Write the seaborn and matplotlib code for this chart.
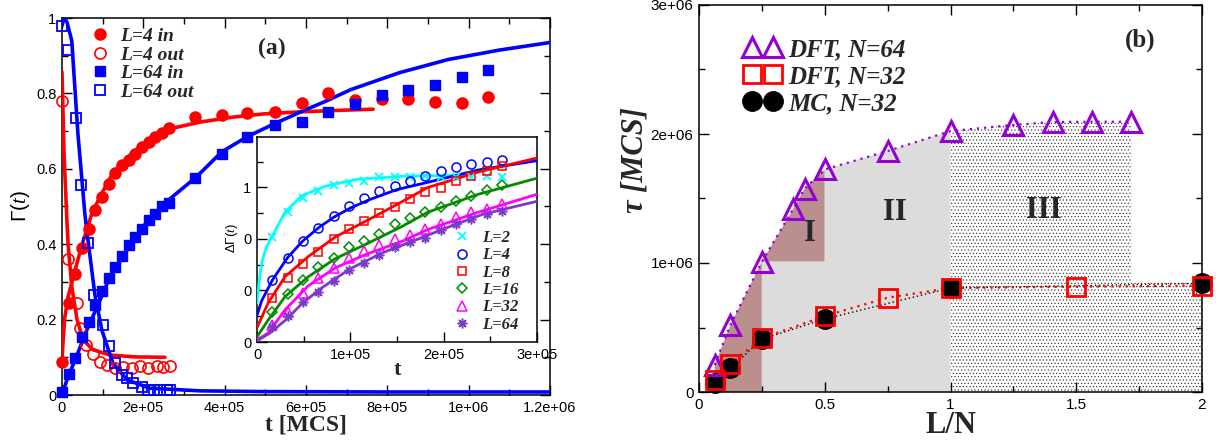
import numpy as np
import pandas as pd
import matplotlib
matplotlib.use("Agg")
import matplotlib.pyplot as plt
import seaborn as sns
from matplotlib.font_manager import FontProperties
from matplotlib.ticker import FixedLocator, FixedFormatter, MultipleLocator

# ---------------- data: panel (a) main ----------------
t_l4_in = [0, 1.64e4, 3.28e4, 4.92e4, 6.56e4, 8.2e4, 9.84e4, 1.148e5, 1.312e5, 1.476e5,
           1.64e5, 1.804e5, 1.968e5, 2.132e5, 2.296e5, 2.46e5, 2.624e5,
           3.27e5, 3.93e5, 4.55e5, 5.23e5, 5.9e5, 6.53e5, 7.2e5, 7.86e5, 8.5e5, 9.17e5, 9.83e5, 1.047e6]
g_l4_in = [0.088, 0.245, 0.32, 0.39, 0.44, 0.49, 0.525, 0.56, 0.59, 0.61,
           0.623, 0.64, 0.658, 0.671, 0.684, 0.695, 0.708,
           0.737, 0.743, 0.748, 0.751, 0.775, 0.80, 0.782, 0.785, 0.785, 0.778, 0.774, 0.79]

t_l4_out = [0, 1.4e4, 3.6e4, 4.4e4, 6.0e4, 7.7e4, 9.3e4, 1.1e5, 1.3e5, 1.51e5, 1.71e5,
            1.92e5, 2.12e5, 2.33e5, 2.49e5, 2.65e5]
g_l4_out = [0.78, 0.36, 0.243, 0.178, 0.133, 0.11, 0.088, 0.08, 0.072, 0.075, 0.072,
            0.078, 0.072, 0.078, 0.074, 0.077]

t_l64_in = [0, 1.64e4, 3.28e4, 4.92e4, 6.56e4, 8.2e4, 9.84e4, 1.148e5, 1.312e5, 1.476e5,
            1.64e5, 1.804e5, 1.968e5, 2.132e5, 2.296e5, 2.46e5, 2.624e5,
            3.27e5, 3.93e5, 4.55e5, 5.23e5, 5.9e5, 6.53e5, 7.2e5, 7.86e5, 8.5e5, 9.17e5, 9.83e5, 1.047e6]
g_l64_in = [0.008, 0.055, 0.097, 0.155, 0.193, 0.238, 0.276, 0.31, 0.34, 0.37,
            0.398, 0.42, 0.44, 0.464, 0.48, 0.50, 0.51,
            0.575, 0.64, 0.685, 0.716, 0.725, 0.75, 0.773, 0.796, 0.81, 0.822, 0.843, 0.862]

t_l64_out = [0, 1.5e4, 3.4e4, 4.7e4, 6.4e4, 7.9e4, 1.0e5, 1.15e5, 1.3e5, 1.47e5, 1.6e5,
             1.75e5, 1.97e5, 2.12e5, 2.27e5, 2.42e5, 2.57e5, 2.65e5]
g_l64_out = [0.98, 0.915, 0.735, 0.557, 0.403, 0.265, 0.186, 0.13, 0.085, 0.053, 0.045,
             0.032, 0.02, 0.013, 0.012, 0.012, 0.012, 0.012]

# fitted curves
fit_l4_in_t = [0, 3e3, 7e3, 1.5e4, 3.2e4, 4.9e4, 7.4e4, 9.3e4, 1.25e5, 1.75e5, 2.24e5,
               2.73e5, 3.4e5, 4.2e5, 5.0e5, 5.85e5, 6.8e5, 7.65e5]
fit_l4_in_g = [0.09, 0.15, 0.207, 0.26, 0.33, 0.398, 0.483, 0.525, 0.589, 0.645, 0.684,
               0.708, 0.724, 0.737, 0.746, 0.751, 0.755, 0.758]
fit_l4_out_t = [0, 5e3, 1.2e4, 1.5e4, 2.4e4, 3.7e4, 5.2e4, 7.6e4, 1.18e5, 1.8e5, 2.53e5]
fit_l4_out_g = [0.857, 0.64, 0.464, 0.40, 0.287, 0.20, 0.146, 0.12, 0.106, 0.101, 0.10]
fit_l64_in_t = [0, 1.2e4, 3.7e4, 6.1e4, 8.6e4, 1.18e5, 1.75e5, 2.09e5, 2.65e5, 3.3e5, 3.93e5,
                4.55e5, 5.23e5, 5.85e5, 6.5e5, 7.1e5, 8.3e5, 9.5e5, 1.076e6, 1.2e6]
fit_l64_in_g = [0, 0.04, 0.106, 0.172, 0.233, 0.313, 0.41, 0.46, 0.52, 0.578, 0.645,
                0.685, 0.72, 0.75, 0.78, 0.81, 0.855, 0.89, 0.915, 0.935]
fit_l64_out_t = [0, 5e3, 1.2e4, 2.4e4, 3.9e4, 5.6e4, 6.4e4, 8.1e4, 9.8e4, 1.25e5, 1.6e5,
                 2.16e5, 3.4e5, 5e5, 8e5, 1.2e6]
fit_l64_out_g = [0.98, 1.0, 0.99, 0.94, 0.695, 0.483, 0.41, 0.265, 0.172, 0.085, 0.04,
                 0.018, 0.011, 0.009, 0.008, 0.008]

# ---------------- data: panel (a) inset ----------------
t_inset = [1.64e4, 3.28e4, 4.92e4, 6.56e4, 8.2e4, 9.84e4, 1.148e5, 1.312e5, 1.476e5,
           1.64e5, 1.804e5, 1.968e5, 2.132e5, 2.296e5, 2.46e5, 2.624e5]
dg_L2 = [0.51, 0.63, 0.70, 0.735, 0.76, 0.77, 0.78, 0.80, 0.80, 0.80, 0.805, 0.80, 0.80, 0.80, 0.805, 0.80]
dg_L4 = [0.30, 0.41, 0.49, 0.555, 0.61, 0.66, 0.70, 0.735, 0.755, 0.78, 0.805, 0.83, 0.85, 0.863, 0.873, 0.883]
dg_L8 = [0.215, 0.31, 0.38, 0.435, 0.50, 0.55, 0.585, 0.625, 0.655, 0.695, 0.728, 0.748, 0.78, 0.807, 0.83, 0.854]
dg_L16 = [0.146, 0.234, 0.30, 0.365, 0.41, 0.46, 0.49, 0.525, 0.575, 0.60, 0.63, 0.655, 0.685, 0.71, 0.74, 0.76]
dg_L32 = [0.083, 0.146, 0.24, 0.31, 0.36, 0.41, 0.44, 0.473, 0.50, 0.52, 0.55, 0.575, 0.605, 0.63, 0.645, 0.668]
dg_L64 = [0.073, 0.125, 0.192, 0.242, 0.295, 0.35, 0.385, 0.424, 0.463, 0.483, 0.507, 0.546, 0.571, 0.595, 0.62, 0.634]

fit_L2_t = [0, 2e3, 5e3, 1e4, 1.6e4, 3e4, 4.8e4, 7.3e4, 1.08e5, 1.58e5, 2.3e5]
fit_L2_g = [0.19, 0.28, 0.385, 0.46, 0.51, 0.63, 0.71, 0.756, 0.79, 0.805, 0.81]
fit_L4_t = [0, 5e3, 1.64e4, 3.28e4, 4.9e4, 6.6e4, 8.2e4, 1.0e5, 1.2e5, 1.5e5, 1.83e5, 2.37e5, 3e5]
fit_L4_g = [0.13, 0.20, 0.30, 0.41, 0.49, 0.555, 0.605, 0.65, 0.69, 0.74, 0.775, 0.835, 0.88]
fit_t = [0, 1.2e4, 3e4, 5.5e4, 8.4e4, 1.16e5, 1.55e5, 1.83e5, 2.37e5, 3e5]
fit_L8_g = [0.07, 0.19, 0.317, 0.415, 0.51, 0.585, 0.68, 0.75, 0.825, 0.893]
fit_L16_g = [0.025, 0.107, 0.22, 0.317, 0.405, 0.473, 0.56, 0.63, 0.717, 0.795]
fit_L32_g = [0.01, 0.044, 0.156, 0.273, 0.36, 0.424, 0.488, 0.546, 0.63, 0.717]
fit_L64_t = [0, 1.4e4, 3.2e4, 4.9e4, 7.1e4, 1.0e5, 1.35e5, 1.71e5, 2.07e5, 2.42e5, 3e5]
fit_L64_g = [0.005, 0.044, 0.112, 0.19, 0.268, 0.356, 0.434, 0.497, 0.561, 0.62, 0.683]

# ---------------- data: panel (b) ----------------
dft64_x = [0.0625, 0.125, 0.25, 0.375, 0.42, 0.5, 0.75, 1.0, 1.25, 1.40625, 1.5625, 1.71875]
dft64_y = [0.21e6, 0.52e6, 1.01e6, 1.42e6, 1.576e6, 1.725e6, 1.868e6, 2.023e6, 2.07e6, 2.093e6, 2.095e6, 2.095e6]
dft32_x = [0.0625, 0.125, 0.25, 0.5, 0.75, 1.0, 1.5, 2.0]
dft32_y = [0.095e6, 0.22e6, 0.416e6, 0.589e6, 0.731e6, 0.806e6, 0.816e6, 0.824e6]
mc_x = [0.0625, 0.125, 0.25, 0.5, 1.0, 2.0]
mc_y = [0.072e6, 0.184e6, 0.41e6, 0.566e6, 0.806e6, 0.842e6]
region_edges = [0.25, 0.5, 1.0, 2.0]
region3_floor = 0.85e6

# tick labels
a_xticks = [0, 2e5, 4e5, 6e5, 8e5, 1e6, 1.2e6]
a_xlabels = ["0", "2e+05", "4e+05", "6e+05", "8e+05", "1e+06", "1.2e+06"]
a_yticks = [0, 0.2, 0.4, 0.6, 0.8, 1.0]
a_ylabels = ["0", "0.2", "0.4", "0.6", "0.8", "1"]
i_xticks = [0, 1e5, 2e5, 3e5]
i_xlabels = ["0", "1e+05", "2e+05", "3e+05"]
i_yticks = [0, 0.25, 0.5, 0.75]
i_ylabels = ["0", "0", "0", "1"]
b_xticks = [0, 0.5, 1.0, 1.5, 2.0]
b_xlabels = ["0", "0.5", "1", "1.5", "2"]
b_yticks = [0, 1e6, 2e6, 3e6]
b_ylabels = ["0", "1e+06", "2e+06", "3e+06"]

# ---------------- style ----------------
sns.set_theme(style="ticks")
plt.rcParams["font.family"] = ["Liberation Sans", "DejaVu Sans"]
plt.rcParams["mathtext.fontset"] = "custom"
plt.rcParams["mathtext.rm"] = "Liberation Sans"
plt.rcParams["mathtext.it"] = "Liberation Serif:italic"
plt.rcParams["hatch.linewidth"] = 0.45

RED = "#ff0000"
BLUE = "#0000ff"
CYAN = "#00ffff"
GREEN = "#008b00"
MAGENTA = "#ff00ff"
INDIGO = "#7a3cc8"
VIOLET = "#9400d3"
BROWN = "#bc8f8f"
LGRAY = "#dcdcdc"

def bfont(size, italic=False):
    return FontProperties(family="Liberation Serif", weight="bold",
                          style="italic" if italic else "normal", size=size)

def marks(ax, x, y, color, marker, ms, filled=True, mew=1.0, z=4):
    n0 = len(ax.lines)
    sns.lineplot(x=x, y=y, ax=ax, color=color, marker=marker, markersize=ms,
                 linestyle="", markerfacecolor=color if filled else "none",
                 markeredgecolor=color, markeredgewidth=mew, estimator=None,
                 sort=False, errorbar=None, legend=False, zorder=z, clip_on=False)
    return ax.lines[n0]

def curve(ax, x, y, color, lw, ls="-", z=3):
    sns.lineplot(x=x, y=y, ax=ax, color=color, linewidth=lw, linestyle=ls,
                 estimator=None, sort=False, errorbar=None, legend=False, zorder=z)

def style_axes(ax, labelsize=10.5):
    for s in ax.spines.values():
        s.set_visible(True)
        s.set_linewidth(1.1)
        s.set_color("black")
    ax.tick_params(which="both", direction="in", top=True, right=True,
                   color="black", width=1.0, labelsize=labelsize, pad=4,
                   labelcolor="black")
    ax.tick_params(which="major", length=7)
    ax.tick_params(which="minor", length=4)
    ax.grid(False)

fig = plt.figure(figsize=(12.16, 4.44), dpi=100)
axA = fig.add_axes([62 / 1216, 49 / 444, 488 / 1216, 377 / 444])
axI = fig.add_axes([257 / 1216, 102 / 444, 280 / 1216, 205 / 444])
axB = fig.add_axes([699 / 1216, 52 / 444, 503 / 1216, 387 / 444])

# ---------------- panel (a) ----------------
curve(axA, fit_l4_out_t, fit_l4_out_g, RED, 2.6)
curve(axA, fit_l4_in_t, fit_l4_in_g, RED, 2.6)
curve(axA, fit_l64_in_t, fit_l64_in_g, BLUE, 2.6)
curve(axA, fit_l64_out_t, fit_l64_out_g, BLUE, 2.6)
h1 = marks(axA, t_l4_in, g_l4_in, RED, "o", 8)
h2 = marks(axA, t_l4_out, g_l4_out, RED, "o", 8, filled=False, mew=1.2)
h3 = marks(axA, t_l64_in, g_l64_in, BLUE, "s", 7)
h4 = marks(axA, t_l64_out, g_l64_out, BLUE, "s", 7.5, filled=False, mew=1.3)

axA.set_xlim(0, 1.2e6)
axA.set_ylim(0, 1)
axA.xaxis.set_major_locator(FixedLocator(a_xticks))
axA.xaxis.set_major_formatter(FixedFormatter(a_xlabels))
axA.xaxis.set_minor_locator(MultipleLocator(1e5))
axA.yaxis.set_major_locator(FixedLocator(a_yticks))
axA.yaxis.set_major_formatter(FixedFormatter(a_ylabels))
axA.yaxis.set_minor_locator(MultipleLocator(0.1))
style_axes(axA)
axA.set_xlabel("t [MCS]", fontproperties=bfont(17), va="center")
axA.xaxis.set_label_coords(0.5, -0.08)
axA.set_ylabel(r"$\Gamma(t)$", fontsize=15, va="center", color="black")
axA.yaxis.set_label_coords(-0.086, 0.5)
axA.text(0.43, 0.92, "(a)", transform=axA.transAxes, ha="center", va="center",
         fontproperties=bfont(17))
legA = axA.legend([h1, h2, h3, h4], ["L=4 in", "L=4 out", "L=64 in", "L=64 out"],
                  loc="upper left", bbox_to_anchor=(0.058, 0.975), frameon=False,
                  prop=bfont(14, True), handlelength=1.0, handletextpad=0.53,
                  labelspacing=0.05, borderpad=0, borderaxespad=0, numpoints=1)

# ---------------- inset ----------------
axI.set_facecolor("white")
axI.set_zorder(5)
curve(axI, fit_L2_t, fit_L2_g, CYAN, 2.0)
curve(axI, fit_L4_t, fit_L4_g, BLUE, 2.0)
curve(axI, fit_t, fit_L8_g, RED, 2.0)
curve(axI, fit_t, fit_L16_g, GREEN, 2.0)
curve(axI, fit_t, fit_L32_g, MAGENTA, 2.0)
curve(axI, fit_L64_t, fit_L64_g, INDIGO, 2.0)
k1 = marks(axI, t_inset, dg_L2, CYAN, "x", 6, mew=1.3)
k2 = marks(axI, t_inset, dg_L4, BLUE, "o", 6.5, filled=False, mew=1.1)
k3 = marks(axI, t_inset, dg_L8, RED, "s", 6, filled=False, mew=1.1)
k4 = marks(axI, t_inset, dg_L16, GREEN, "D", 5.2, filled=False, mew=1.1)
k5 = marks(axI, t_inset, dg_L32, MAGENTA, "^", 7, filled=False, mew=1.1)
k6 = marks(axI, t_inset, dg_L64, INDIGO, (8, 2, 0), 7, mew=1.1)

axI.set_xlim(0, 3e5)
axI.set_ylim(0, 0.995)
axI.xaxis.set_major_locator(FixedLocator(i_xticks))
axI.xaxis.set_major_formatter(FixedFormatter(i_xlabels))
axI.xaxis.set_minor_locator(MultipleLocator(5e4))
axI.yaxis.set_major_locator(FixedLocator(i_yticks))
axI.yaxis.set_major_formatter(FixedFormatter(i_ylabels))
axI.yaxis.set_minor_locator(MultipleLocator(0.125))
style_axes(axI, labelsize=10.5)
axI.tick_params(top=False, right=False, which="both")
axI.set_xlabel("t", fontproperties=bfont(16), va="center")
axI.xaxis.set_label_coords(0.5, -0.137)
axI.set_ylabel(r"$\Delta\Gamma(t)$", fontsize=9.5, va="center", color="black")
axI.yaxis.set_label_coords(-0.089, 0.507)
axI.legend([k1, k2, k3, k4, k5, k6], ["L=2", "L=4", "L=8", "L=16", "L=32", "L=64"],
           loc="lower left", bbox_to_anchor=(0.702, 0.045), frameon=False,
           prop=bfont(12, True), handlelength=1.0, handletextpad=0.7,
           labelspacing=0.08, borderpad=0, borderaxespad=0, numpoints=1)

# ---------------- panel (b) ----------------
x25, x50, x100, x200 = region_edges
y25 = dft64_y[dft64_x.index(x25)]
pairs = list(zip(dft64_x, dft64_y))
poly1 = [(dft64_x[0], 0)] + [p for p in pairs if p[0] <= x50] + [(x50, y25), (x25, y25), (x25, 0)]
poly2 = [(x25, 0), (x25, y25), (x50, y25)] + [p for p in pairs if x50 <= p[0] <= x100] + [(x100, 0)]
poly3 = ([(x100, 0)] + [p for p in pairs if p[0] >= x100] +
         [(dft64_x[-1], region3_floor), (x200, region3_floor), (x200, 0)])
for poly, kw in [(poly1, dict(facecolor=BROWN, edgecolor="none")),
                 (poly2, dict(facecolor=LGRAY, edgecolor="none"))]:
    xs, ys = zip(*poly)
    axB.fill(xs, ys, zorder=0, linewidth=0, **kw)
xs, ys = zip(*poly3)
axB.fill(xs, ys, facecolor="white", edgecolor="#333333", hatch=".....", linewidth=0, zorder=0)

curve(axB, mc_x, mc_y, "black", 1.0, ls=(0, (1, 2)))
curve(axB, dft64_x, dft64_y, VIOLET, 1.6, ls=(0, (1, 2.2)))
curve(axB, dft32_x, dft32_y, RED, 1.6, ls=(0, (1, 2.2)))
b3 = marks(axB, mc_x, mc_y, "black", "o", 14, z=4)
b1 = marks(axB, dft64_x, dft64_y, VIOLET, "^", 14, filled=False, mew=2.2, z=5)
b2 = marks(axB, dft32_x, dft32_y, RED, "s", 13, filled=False, mew=2.0, z=5)

axB.set_xlim(0, 2)
axB.set_ylim(0, 3e6)
axB.xaxis.set_major_locator(FixedLocator(b_xticks))
axB.xaxis.set_major_formatter(FixedFormatter(b_xlabels))
axB.xaxis.set_minor_locator(MultipleLocator(0.25))
axB.yaxis.set_major_locator(FixedLocator(b_yticks))
axB.yaxis.set_major_formatter(FixedFormatter(b_ylabels))
axB.yaxis.set_minor_locator(MultipleLocator(5e5))
style_axes(axB, labelsize=11)
axB.set_xlabel("L/N", fontproperties=bfont(22), va="center")
axB.xaxis.set_label_coords(0.5, -0.087)
axB.set_ylabel("τ [MCS]", fontproperties=bfont(22, True), va="center")
axB.yaxis.set_label_coords(-0.128, 0.6)
axB.text(0.877, 0.91, "(b)", transform=axB.transAxes, ha="center", va="center",
         fontproperties=bfont(18))
for lab, (lx, ly) in zip(["I", "II", "III"], [(0.441, 1.23e6), (0.78, 1.39e6), (1.372, 1.41e6)]):
    axB.text(lx, ly, lab, ha="center", va="center", fontproperties=bfont(22), zorder=6)
axB.legend([b1, b2, b3], ["DFT, N=64", "DFT, N=32", "MC, N=32"],
           loc="upper left", bbox_to_anchor=(0.0905, 0.915), frameon=False,
           prop=bfont(18, True), handlelength=1.44, handletextpad=0.3,
           labelspacing=0.16, borderpad=0, borderaxespad=0, numpoints=2)

fig.savefig("out.png", dpi=100)
